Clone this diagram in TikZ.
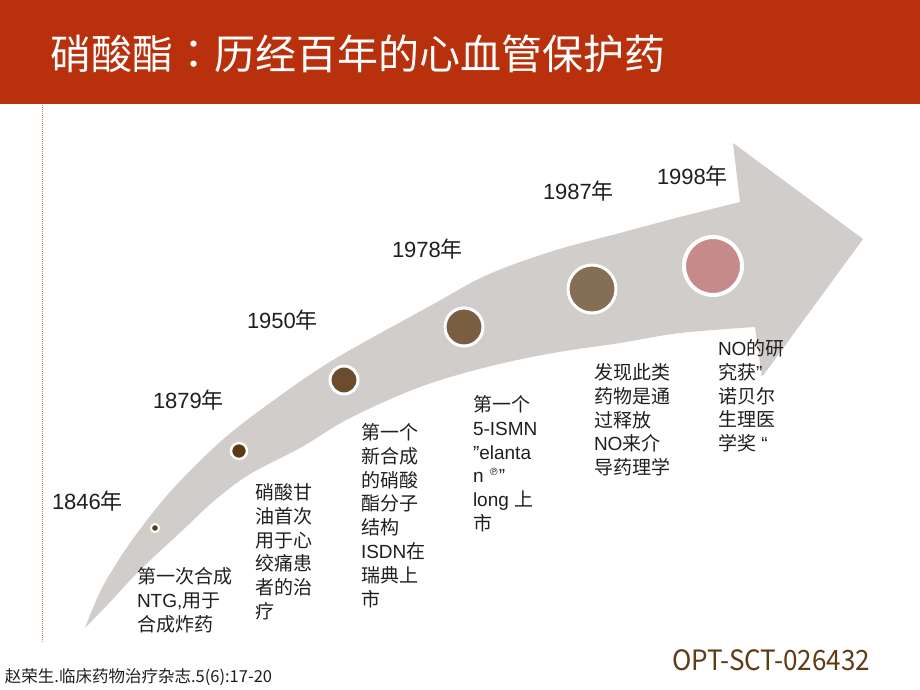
\documentclass[tikz,border=0pt]{standalone}
\usepackage{fontspec}
\setmainfont{Liberation Sans}
\newfontfamily\cjkfont{Noto Sans CJK SC}
\newfontfamily\jpfont{Noto Sans CJK JP}
\newfontfamily\symbfont{DejaVu Sans}
\newcommand{\zh}[1]{{\cjkfont #1}}
\usepackage{xcolor}
\definecolor{titlered}  {RGB}{184, 49, 12}
\definecolor{bandgray}  {RGB}{208,205,203}
\definecolor{dotbrownA} {RGB}{ 92, 58, 22}
\definecolor{dotbrownB} {RGB}{108, 76, 44}
\definecolor{dotbrownC} {RGB}{122, 94, 66}
\definecolor{dotbrownD} {RGB}{132,110, 86}
\definecolor{dotpink}   {RGB}{198,138,138}
\definecolor{optbrown}  {RGB}{ 95, 60, 20}
\definecolor{guideline} {RGB}{190,140,100}

\begin{document}
\begin{tikzpicture}[
  x=1pt, y=-1pt,
  every node/.style={inner sep=0pt, outer sep=0pt, text=black!88},
  year/.style={anchor=west, font=\fontsize{22}{26}\selectfont},
  note/.style={anchor=north west, align=left, font=\fontsize{19}{23.8}\selectfont},
  dot/.style={circle, draw=white, inner sep=0pt}
]
  \useasboundingbox (0,0) rectangle (920,690);

  % Header
  \fill[titlered] (0,0) rectangle (920,104);
  \node (title) [anchor=west, text=white, font=\fontsize{41}{48}\selectfont\cjkfont] at (50,54) {硝酸酯{\jpfont ：}历经百年的心血管保护药};
  \draw[guideline, line width=1pt, dash pattern=on 1pt off 1pt] (42,105) -- (42,642);

  % Band
  \fill[bandgray] (85,628)
    -- plot[smooth, tension=0.55] coordinates {(85,628) (102,588) (130,543) (170,492) (220,442) (270,403) (333,360) (430,306) (487,275) (553,251) (620,233) (680,217) (740,202)}
    -- (733,143) -- (863,239) -- (762,377) -- (755,327)
    -- plot[smooth, tension=0.55] coordinates {(755,327) (680,333) (620,343) (553,353) (487,367) (420,387) (350,418) (300,448) (250,474) (215,500) (185,528) (140,570) (112,600) (85,628)}
    -- cycle;

  % Dots
  \node (d1846) [dot, fill=dotbrownA, minimum size=8pt, line width=2pt] at (155,528) {};
  \node (d1879) [dot, fill=dotbrownA, minimum size=16pt, line width=2.5pt] at (239,451) {};
  \node (d1950) [dot, fill=dotbrownB, minimum size=28pt, line width=3pt] at (344,380) {};
  \node (d1978) [dot, fill=dotbrownC, minimum size=38pt, line width=3pt] at (464,327) {};
  \node (d1987) [dot, fill=dotbrownD, minimum size=48pt, line width=3pt] at (592,289) {};
  \node (d1998) [dot, fill=dotpink, minimum size=58pt, line width=4pt] at (713,266) {};

  % Years
  \node (y1846) [year] at (52,501) {1846\zh{年}};
  \node (y1879) [year] at (153,400) {1879\zh{年}};
  \node (y1950) [year] at (247,320) {1950\zh{年}};
  \node (y1978) [year] at (392,249) {1978\zh{年}};
  \node (y1987) [year] at (543,191) {1987\zh{年}};
  \node (y1998) [year] at (657,176) {1998\zh{年}};

  % Notes
  \node (n1846) [note] at (137,567.5) {\zh{第一次合成}\\NTG,\zh{用于}\\\zh{合成炸药}};
  \node (n1879) [note] at (255,483.5) {\zh{硝酸甘}\\\zh{油首次}\\\zh{用于心}\\\zh{绞痛患}\\\zh{者的治}\\\zh{疗}};
  \node (n1950) [note] at (361,423.5) {\zh{第一个}\\\zh{新合成}\\\zh{的硝酸}\\\zh{酯分子}\\\zh{结构}\\ISDN\zh{在}\\\zh{瑞典上}\\\zh{市}};
  \node (n1978) [note] at (473,395.5) {\zh{第一个}\\5-ISMN\\”elanta\\n \raisebox{0.4em}{\fontsize{10}{10}\selectfont\symbfont ℗}”\\long \zh{上}\\\zh{市}};
  \node (n1987) [note] at (594,363.5) {\zh{发现此类}\\\zh{药物是通}\\\zh{过释放}\\NO\zh{来介}\\\zh{导药理学}};
  \node (n1998) [note] at (718,339.5) {NO\zh{的研}\\\zh{究获}”\\\zh{诺贝尔}\\\zh{生理医}\\\zh{学奖} “};

  % Footer
  \node (source) [anchor=west, font=\fontsize{16.5}{18}\selectfont\cjkfont] at (5,677) {赵荣生.临床药物治疗杂志.5(6):17-20};
  \node (code) [anchor=west, text=optbrown, font=\fontsize{28}{32}\selectfont\cjkfont] at (672,660) {\scalebox{0.93}[1]{OPT-SCT-026432}};
\end{tikzpicture}
\end{document}
